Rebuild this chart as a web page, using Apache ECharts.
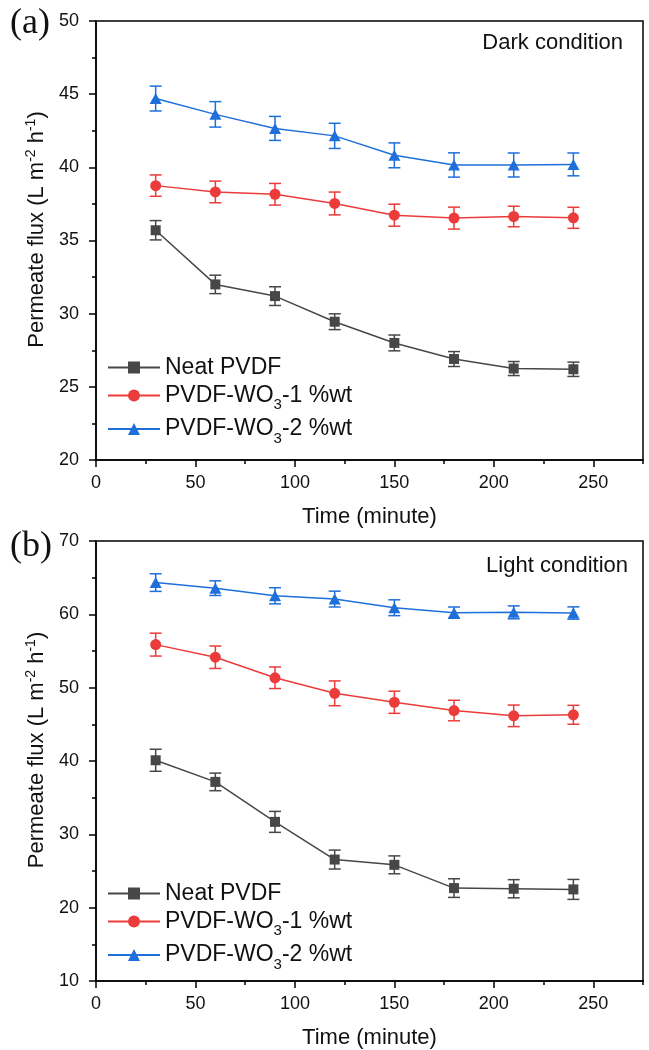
<!DOCTYPE html>
<html>
<head>
<meta charset="utf-8">
<script src="https://cdn.jsdelivr.net/npm/echarts@6/dist/echarts.min.js"></script>
<style>
  html, body { margin: 0; padding: 0; background: #fff; }
  #chart { width: 649px; height: 1050px; }
</style>
</head>
<body>
<div id="chart"></div>
<script>
// 資料
const time = [30, 60, 90, 120, 150, 180, 210, 240];
const xTicks = [0, 50, 100, 150, 200, 250];

// (a) Dark condition
const darkNeat    = [35.7, 32.0, 31.2, 29.45, 28.0, 26.9, 26.25, 26.2];
const darkNeatErr = [0.66, 0.63, 0.64, 0.54, 0.54, 0.51, 0.48, 0.49];
const darkW1      = [38.75, 38.32, 38.16, 37.53, 36.73, 36.53, 36.64, 36.55];
const darkW1Err   = [0.73, 0.74, 0.74, 0.78, 0.75, 0.75, 0.70, 0.72];
const darkW2      = [44.7, 43.62, 42.66, 42.15, 40.82, 40.16, 40.16, 40.2];
const darkW2Err   = [0.85, 0.87, 0.82, 0.86, 0.85, 0.83, 0.82, 0.78];

// (b) Light condition
const lightNeat    = [40.1, 37.15, 31.7, 26.56, 25.84, 22.67, 22.58, 22.49];
const lightNeatErr = [1.5, 1.2, 1.43, 1.29, 1.22, 1.27, 1.24, 1.36];
const lightW1      = [55.87, 54.15, 51.35, 49.23, 48.01, 46.88, 46.16, 46.3];
const lightW1Err   = [1.56, 1.53, 1.47, 1.69, 1.51, 1.4, 1.47, 1.29];
const lightW2      = [64.33, 63.57, 62.53, 62.08, 60.9, 60.23, 60.27, 60.18];
const lightW2Err   = [1.2, 1.0, 1.1, 1.08, 1.08, 0.77, 0.88, 0.84];

const names = ['Neat PVDF', 'PVDF-WO3-1 %wt', 'PVDF-WO3-2 %wt'];
const colors = ['#474747', '#EB3B3B', '#1F6FDB'];
const symbols = ['rect', 'circle', 'triangle'];
const symbolSizes = [10, 11, [12, 11]];

const FONT = '"Liberation Sans", Arial, sans-serif';

const chart = echarts.init(document.getElementById('chart'), null, { renderer: 'canvas' });

// 共用：軸
function xAxes(g) {
  return [
    {
      type: 'value', gridIndex: g, min: 0, max: 275, interval: 50, position: 'bottom',
      axisLine: { show: true, lineStyle: { color: '#000', width: 1.5 } },
      axisTick: { show: true, length: 7, customValues: xTicks, lineStyle: { color: '#000', width: 1.5 } },
      axisLabel: { customValues: xTicks, fontSize: 18, color: '#111', fontFamily: FONT, margin: 14,
                   formatter: v => (v > 250 ? '' : String(v)) },
      splitLine: { show: false },
      name: 'Time (minute)', nameLocation: 'middle', nameGap: 46,
      nameTextStyle: { fontSize: 22, color: '#111', fontFamily: FONT }
    },
    { // 次刻度
      type: 'value', gridIndex: g, min: 0, max: 275, interval: 25, position: 'bottom',
      axisLine: { show: false },
      axisTick: { show: true, length: 4, lineStyle: { color: '#000', width: 1.5 } },
      axisLabel: { show: false }, splitLine: { show: false }
    }
  ];
}

function yAxes(g, min, max, step) {
  return [
    {
      type: 'value', gridIndex: g, min, max, interval: step, position: 'left',
      axisLine: { show: true, lineStyle: { color: '#000', width: 1.5 } },
      axisTick: { show: true, length: 7, lineStyle: { color: '#000', width: 1.5 } },
      axisLabel: { fontSize: 18, color: '#111', fontFamily: FONT, margin: 17 },
      splitLine: { show: false },
      name: '{a|Permeate flux (L m}{s|-2}{a| h}{s|-1}{a|)}',
      nameLocation: 'middle', nameRotate: 90, nameGap: 42,
      nameTextStyle: {
        padding: [0, 0, 0, 22],
        rich: {
          a: { fontSize: 22, color: '#111', fontFamily: FONT, lineHeight: 26 },
          s: { fontSize: 14, color: '#111', fontFamily: FONT, lineHeight: 14, verticalAlign: 'top' }
        }
      }
    },
    { // 次刻度
      type: 'value', gridIndex: g, min, max, interval: step / 2, position: 'left',
      axisLine: { show: false },
      axisTick: { show: true, length: 4, lineStyle: { color: '#000', width: 1.5 } },
      axisLabel: { show: false }, splitLine: { show: false }
    }
  ];
}

// 折線
function line(i, g, values) {
  return {
    type: 'line', name: names[i],
    xAxisIndex: g * 2, yAxisIndex: g * 2,
    data: time.map((t, k) => [t, values[k]]),
    symbol: symbols[i], symbolSize: symbolSizes[i], showSymbol: true,
    itemStyle: { color: colors[i] },
    lineStyle: { color: colors[i], width: 1.5 },
    z: 5
  };
}

// 誤差棒
function errBar(i, g, values, errs) {
  return {
    type: 'custom', name: 'err-' + g + '-' + i,
    xAxisIndex: g * 2, yAxisIndex: g * 2,
    data: time.map((t, k) => [t, values[k], errs[k]]),
    renderItem: (params, api) => {
      const x = api.value(0), y = api.value(1), e = api.value(2);
      const hi = api.coord([x, y + e]);
      const lo = api.coord([x, y - e]);
      const w = 6;
      const st = { stroke: colors[i], lineWidth: 1.5 };
      return {
        type: 'group',
        children: [
          { type: 'line', shape: { x1: hi[0], y1: hi[1], x2: lo[0], y2: lo[1] }, style: st },
          { type: 'line', shape: { x1: hi[0] - w, y1: hi[1], x2: hi[0] + w, y2: hi[1] }, style: st },
          { type: 'line', shape: { x1: lo[0] - w, y1: lo[1], x2: lo[0] + w, y2: lo[1] }, style: st }
        ]
      };
    },
    z: 4
  };
}

function legend(top) {
  return {
    orient: 'vertical', left: 107, top, padding: 0, itemGap: 5,
    itemWidth: 52, itemHeight: 15,
    data: names,
    formatter: n => '{n|' + n.replace('WO3', 'WO}{s|3}{n|') + '}',
    textStyle: {
      rich: {
        n: { fontSize: 23, color: '#111', fontFamily: FONT, lineHeight: 26 },
        s: { fontSize: 15, color: '#111', fontFamily: FONT, lineHeight: 14, verticalAlign: 'bottom', padding: [0, 0, -4, 0] }
      }
    }
  };
}

const option = {
  backgroundColor: '#fff',
  animation: false,
  grid: [
    { left: 96, top: 21, width: 547, height: 439, show: true, borderColor: '#000', borderWidth: 1.5 },
    { left: 96, top: 541, width: 547, height: 441, show: true, borderColor: '#000', borderWidth: 1.5 }
  ],
  xAxis: [...xAxes(0), ...xAxes(1)],
  yAxis: [...yAxes(0, 20, 50, 5), ...yAxes(1, 10, 70, 10)],
  legend: [legend(356), legend(882)],
  graphic: [
    { type: 'text', x: 10, y: 24, style: { text: '(a)', font: '36px "Liberation Serif", "Times New Roman", serif', fill: '#111', verticalAlign: 'middle' } },
    { type: 'text', x: 10, y: 547, style: { text: '(b)', font: '36px "Liberation Serif", "Times New Roman", serif', fill: '#111', verticalAlign: 'middle' } },
    { type: 'text', x: 623, y: 43, style: { text: 'Dark condition', font: '22px ' + FONT, fill: '#111', align: 'right', verticalAlign: 'middle' } },
    { type: 'text', x: 628, y: 566, style: { text: 'Light condition', font: '22px ' + FONT, fill: '#111', align: 'right', verticalAlign: 'middle' } }
  ],
  series: [
    errBar(0, 0, darkNeat, darkNeatErr), errBar(1, 0, darkW1, darkW1Err), errBar(2, 0, darkW2, darkW2Err),
    line(0, 0, darkNeat), line(1, 0, darkW1), line(2, 0, darkW2),
    errBar(0, 1, lightNeat, lightNeatErr), errBar(1, 1, lightW1, lightW1Err), errBar(2, 1, lightW2, lightW2Err),
    line(0, 1, lightNeat), line(1, 1, lightW1), line(2, 1, lightW2)
  ]
};

chart.setOption(option);
</script>
</body>
</html>
